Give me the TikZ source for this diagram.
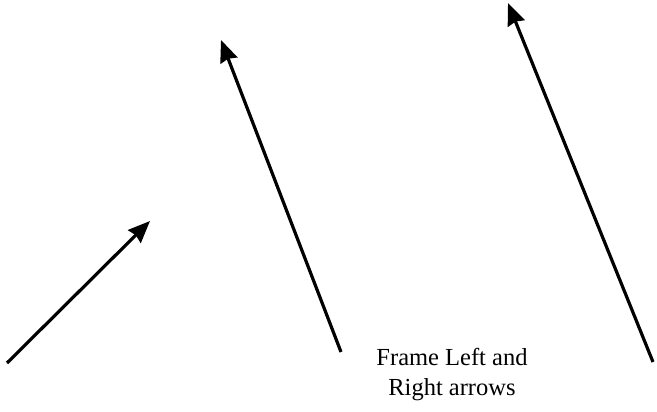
\documentclass[tikz,border=0pt]{standalone}
\usepackage{fontspec}
\setmainfont{Liberation Serif}
\usetikzlibrary{arrows.meta}
\tikzset{
  arr/.style={line width=3.2pt, -{Stealth[length=22pt,width=18pt,inset=2pt]}},
  lbl/.style={font=\fontsize{24.5}{30}\selectfont, align=center, inner sep=0pt}
}
\begin{document}
\begin{tikzpicture}[x=1pt,y=-1pt]
\useasboundingbox (0,0) rectangle (657,412);
\coordinate (a1s) at (7,363);
\coordinate (a1e) at (150,221);
\coordinate (a2s) at (341,352);
\coordinate (a2e) at (221,40);
\coordinate (a3s) at (653,362);
\coordinate (a3e) at (508,3);
\draw[arr] (a1s) -- (a1e);
\draw[arr] (a2s) -- (a2e);
\draw[arr] (a3s) -- (a3e);
\node[lbl] (t) at (452,375) {Frame Left and\\Right arrows};
\end{tikzpicture}
\end{document}
